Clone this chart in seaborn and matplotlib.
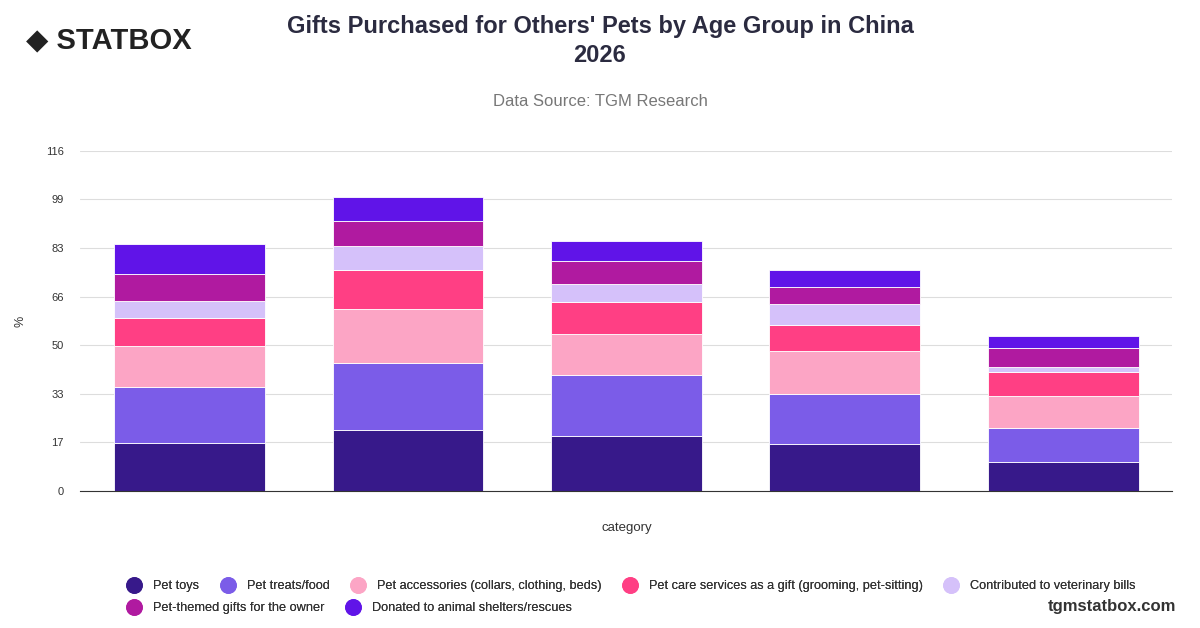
import numpy as np
import pandas as pd
import matplotlib.pyplot as plt
import seaborn as sns
from matplotlib.lines import Line2D

# age groups (labels hidden in the original chart)
categories = ["G1", "G2", "G3", "G4", "G5"]
series = ["Pet toys", "Pet treats/food", "Pet accessories (collars, clothing, beds)",
          "Pet care services as a gift (grooming, pet-sitting)", "Contributed to veterinary bills",
          "Pet-themed gifts for the owner", "Donated to animal shelters/rescues"]
values = {
    "Pet toys": [16.4, 20.9, 18.8, 16.1, 9.9],
    "Pet treats/food": [19.2, 22.6, 20.6, 17.1, 11.7],
    "Pet accessories (collars, clothing, beds)": [14.0, 18.4, 14.3, 14.7, 10.9],
    "Pet care services as a gift (grooming, pet-sitting)": [9.3, 13.4, 10.6, 8.6, 8.2],
    "Contributed to veterinary bills": [5.8, 8.2, 6.2, 7.2, 1.7],
    "Pet-themed gifts for the owner": [9.2, 8.6, 7.9, 5.8, 6.2],
    "Donated to animal shelters/rescues": [10.3, 8.2, 6.8, 5.8, 4.1],
}
colors = ["#37198a", "#7b5ce8", "#fca5c5", "#ff3f84", "#d5c1fa", "#b01aa0", "#6014e8"]
tick_labels = ["0", "17", "33", "50", "66", "83", "99", "116"]

sns.set_style("white")
plt.rcParams['font.family'] = ['Liberation Sans', 'DejaVu Sans']

fig = plt.figure(figsize=(12, 6.28), dpi=100)
ax = fig.add_axes([0.067, 0.218, 0.91, 0.542])

bottom = np.zeros(len(categories))
for name, col in zip(series, colors):
    df = pd.DataFrame({"category": categories, "v": values[name]})
    sns.barplot(data=df, x="category", y="v", bottom=bottom, color=col, width=0.69,
                saturation=1, ax=ax, edgecolor="white", linewidth=0.6)
    bottom += np.array(values[name])

ax.set_ylim(0, 116)
ax.set_xlim(-0.5, 4.5)
ax.set_yticks(np.linspace(0, 116, 8))
ax.set_yticklabels(tick_labels, fontsize=8, color="#333333")
ax.set_xticks([])
ax.yaxis.grid(True, color="#dddddd", linewidth=0.8)
ax.set_axisbelow(True)
for s in ["top", "right", "left"]:
    ax.spines[s].set_visible(False)
ax.spines["bottom"].set_color("#333333")
ax.tick_params(axis="y", length=0, pad=12)
ax.set_ylabel("%", fontsize=9, color="#333333", labelpad=14)
ax.set_xlabel("category", fontsize=9.5, color="#333333", labelpad=22)

# legend: two separate rows, 5 then 2
def row_legend(idx, y):
    hs = [Line2D([], [], marker="o", linestyle="", markersize=11, color=colors[i]) for i in idx]
    leg = fig.legend(hs, [series[i] for i in idx], loc="lower left", bbox_to_anchor=(0.097, y),
                     ncol=len(idx), frameon=False, fontsize=9.2, handletextpad=0.5,
                     columnspacing=1.2, labelcolor="#333333", borderaxespad=0)
    fig.add_artist(leg)

row_legend([0, 1, 2, 3, 4], 0.049)
row_legend([5, 6], 0.014)

fig.text(0.5, 0.935, "Gifts Purchased for Others' Pets by Age Group in China\n2026", ha="center",
         va="center", fontsize=17, fontweight="bold", color="#2b2b40", linespacing=1.3)
fig.text(0.5, 0.838, "Data Source: TGM Research", ha="center", va="center", fontsize=12, color="#777777")
fig.text(0.022, 0.935, "◆ STATBOX", ha="left", va="center", fontsize=21, fontweight="bold", color="#222222")
fig.text(0.98, 0.035, "tgmstatbox.com", ha="right", va="center", fontsize=12, fontweight="bold", color="#333333")

fig.savefig("out.png", dpi=100)
